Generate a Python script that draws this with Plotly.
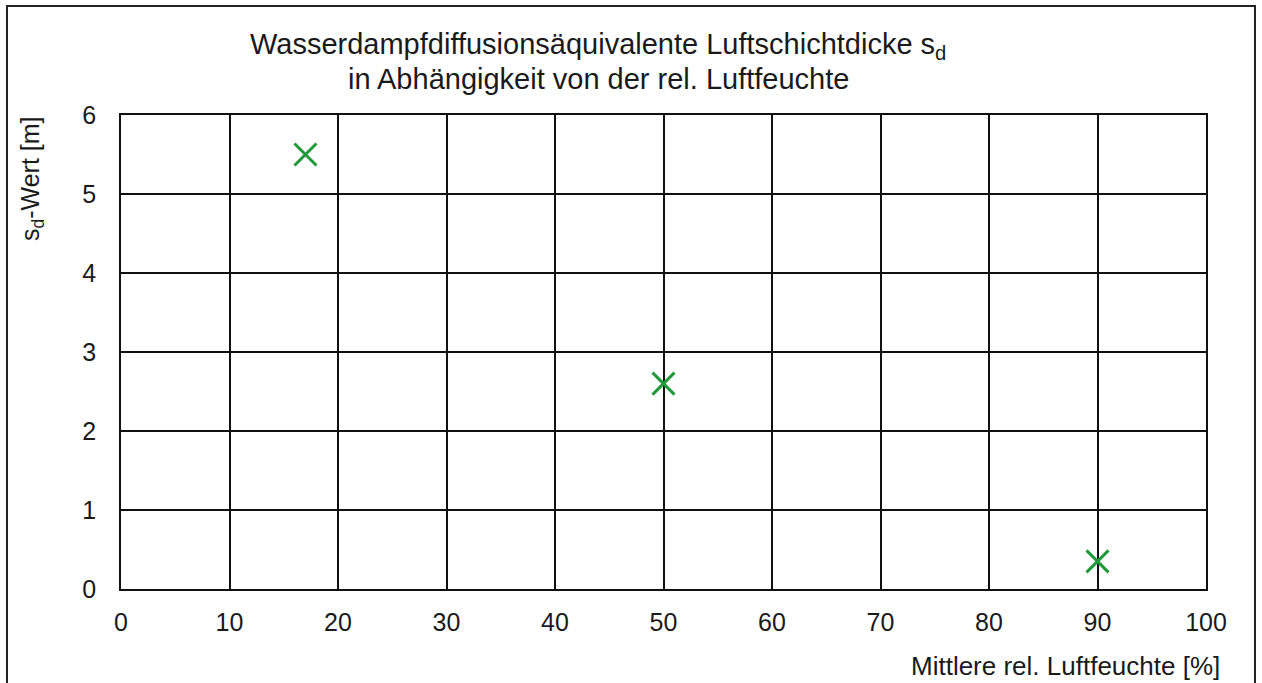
import plotly.graph_objects as go

humidity = [17, 50, 90]
sd_values = [5.5, 2.6, 0.35]
x_ticks = [0, 10, 20, 30, 40, 50, 60, 70, 80, 90, 100]
y_ticks = [0, 1, 2, 3, 4, 5, 6]

title_line1 = "Wasserdampfdiffusionsäquivalente Luftschichtdicke s<sub>d</sub>"
title_line2 = "in Abhängigkeit von der rel. Luftfeuchte"

FONT = "Liberation Sans, Arial, sans-serif"

fig = go.Figure()
fig.add_trace(go.Scatter(
    x=humidity, y=sd_values, mode="markers",
    marker=dict(symbol="x-thin", size=22, line=dict(color="#1f9a3a", width=3)),
    showlegend=False, hoverinfo="x+y"))

W, H = 1262, 683
L, R, T, B = 121, 56, 115, 94
pw, ph = W - L - R, H - T - B

def px(xp):
    return (xp - L) / pw

def py(yp):
    return (H - B - yp) / ph

fig.update_layout(
    width=W, height=H,
    margin=dict(l=L, r=R, t=T, b=B),
    paper_bgcolor="white", plot_bgcolor="white",
    font=dict(family=FONT, size=24, color="#1a1a1a"),
    xaxis=dict(range=[0, 100], tickvals=x_ticks, showgrid=True, gridcolor="#111", gridwidth=1.5,
               showline=True, linecolor="#111", linewidth=1.5, mirror=True, zeroline=False,
               ticks="", ticklabelstandoff=10, tickfont=dict(size=25)),
    yaxis=dict(range=[0, 6], tickvals=y_ticks, showgrid=True, gridcolor="#111", gridwidth=1.5,
               showline=True, linecolor="#111", linewidth=1.5, mirror=True, zeroline=False,
               ticks="", ticklabelstandoff=18, tickfont=dict(size=25)),
    shapes=[dict(type="rect", xref="paper", yref="paper",
                 x0=px(7), x1=px(1255), y0=py(700), y1=py(6),
                 line=dict(color="#222", width=2), fillcolor="rgba(0,0,0,0)", layer="below")],
    annotations=[
        dict(text=title_line1, xref="paper", yref="paper", x=px(598), y=py(46),
             showarrow=False, xanchor="center", yanchor="middle",
             font=dict(family=FONT, size=29, color="#1a1a1a")),
        dict(text=title_line2, xref="paper", yref="paper", x=px(598), y=py(79),
             showarrow=False, xanchor="center", yanchor="middle",
             font=dict(family=FONT, size=29, color="#1a1a1a")),
        dict(text="s<sub>d</sub>-Wert [m]", xref="paper", yref="paper", x=px(32), y=py(179),
             textangle=-90, showarrow=False, xanchor="center", yanchor="middle",
             font=dict(family=FONT, size=25, color="#1a1a1a")),
        dict(text="Mittlere rel. Luftfeuchte [%]", xref="paper", yref="paper", x=px(1222), y=py(666),
             showarrow=False, xanchor="right", yanchor="middle",
             font=dict(family=FONT, size=26, color="#1a1a1a")),
    ],
)

fig.write_html("out.html", config={"displayModeBar": False},
               post_script="document.body.style.margin='0';document.body.style.overflow='hidden';")
